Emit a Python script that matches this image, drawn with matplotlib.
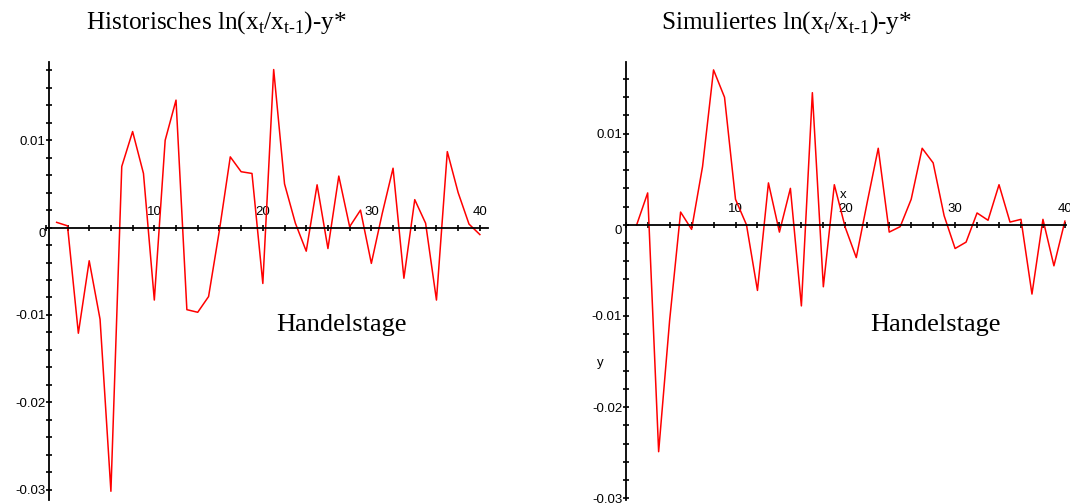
import matplotlib
matplotlib.use("Agg")
import matplotlib.pyplot as plt
from matplotlib.ticker import MultipleLocator, FixedLocator

plt.rcParams["axes.unicode_minus"] = False
plt.rcParams["mathtext.fontset"] = "custom"
plt.rcParams["mathtext.rm"] = "Liberation Serif"

# ---------------------------------------------------------------------------
# Data
# ---------------------------------------------------------------------------
days = list(range(1, 41))

hist = [0.0006, 0.0002, -0.0121, -0.0038, -0.0105, -0.0302, 0.0070, 0.0110, 0.0062, -0.0083,
        0.0100, 0.0146, -0.0094, -0.0097, -0.0079, -0.0003, 0.0081, 0.0064, 0.0062, -0.0064,
        0.0181, 0.0050, 0.0005, -0.0027, 0.0049, -0.0024, 0.0059, 0.0001, 0.0020, -0.0041,
        0.0016, 0.0068, -0.0058, 0.0032, 0.0005, -0.0083, 0.0087, 0.0040, 0.0004, -0.0008]

sim = [0.0000, 0.0035, -0.0249, -0.0105, 0.0014, -0.0005, 0.0064, 0.0170, 0.0140, 0.0028,
       0.0000, -0.0072, 0.0046, -0.0008, 0.0040, -0.0089, 0.0145, -0.0068, 0.0044, -0.0003,
       -0.0036, 0.0025, 0.0084, -0.0008, -0.0002, 0.0028, 0.0084, 0.0068, 0.0010, -0.0026,
       -0.0019, 0.0013, 0.0005, 0.0044, 0.0003, 0.0006, -0.0076, 0.0006, -0.0045, 0.0004]

y_major = [-0.03, -0.02, -0.01, 0.0, 0.01]
y_labels = ["-0.03", "-0.02", "-0.01", "0", "0.01"]
x_major = [10, 20, 30, 40]

titles = ["Historisches ln(x$_\\mathregular{t}$/x$_\\mathregular{t\u20101}$)-y*",
          "Simuliertes ln(x$_\\mathregular{t}$/x$_\\mathregular{t\u20101}$)-y*"]

W, H = 1070, 504
TICK_FS = 9.5


def style_axes(ax, xmax, ymin, ymax, yaxis_at=0.0):
    ax.set_xlim(0, xmax)
    ax.set_ylim(ymin, ymax)
    ax.patch.set_alpha(0)
    for s in ("top", "right"):
        ax.spines[s].set_visible(False)
    ax.spines["left"].set_position(("data", yaxis_at))
    ax.spines["bottom"].set_position(("data", 0))
    for s in ("left", "bottom"):
        ax.spines[s].set_linewidth(1.3)
    ax.xaxis.set_major_locator(FixedLocator(x_major))
    ax.xaxis.set_minor_locator(MultipleLocator(2))
    ax.set_xticklabels([str(v) for v in x_major])
    ax.yaxis.set_major_locator(FixedLocator(y_major))
    ax.yaxis.set_minor_locator(MultipleLocator(0.002))
    ax.set_yticklabels(y_labels)
    ax.tick_params(which="both", direction="inout", width=1.2, colors="black",
                   labelsize=TICK_FS, labelfontfamily="Liberation Sans")
    ax.tick_params(which="major", length=5)
    ax.tick_params(which="minor", length=4.5)
    ax.tick_params(axis="x", which="major", pad=-18)
    ax.tick_params(axis="y", which="major", pad=0)
    for lab in ax.get_yticklabels():
        if lab.get_text() == "0":
            lab.set_verticalalignment("top")


fig = plt.figure(figsize=(W / 100, H / 100), dpi=100)

# left panel
ax1 = fig.add_axes([45.8 / W, 4 / H, (488 - 45.8) / W, (500 - 61.7) / H])
ax1.plot(days, hist, color="#ff0000", linewidth=1.1)
style_axes(ax1, 40.75, -0.0312, 0.0190, yaxis_at=0.3)
ax1.text(0.52, 0.40, "Handelstage", transform=ax1.transAxes, fontsize=19,
         family="Liberation Serif", ha="left", va="center")

# right panel
ax2 = fig.add_axes([625.7 / W, 4 / H, (1066 - 625.7) / W, (500 - 61.7) / H])
ax2.plot(days, sim, color="#ff0000", linewidth=1.1)
style_axes(ax2, 40.1, -0.0302, 0.0179)
ax2.text(0.555, 0.40, "Handelstage", transform=ax2.transAxes, fontsize=19,
         family="Liberation Serif", ha="left", va="center")
ax2.text(19.8, 0.0033, "x", fontsize=TICK_FS, family="Liberation Sans", ha="center", va="center")
ax2.text(-2.3, -0.0152, "y", fontsize=TICK_FS, family="Liberation Sans", ha="center", va="center")

fig.text(216 / W, 1 - 29 / H, titles[0], fontsize=18.2, family="Liberation Serif",
         ha="center", va="baseline")
fig.text(786 / W, 1 - 29 / H, titles[1], fontsize=18.2, family="Liberation Serif",
         ha="center", va="baseline")

fig.savefig("out.png", dpi=100)
